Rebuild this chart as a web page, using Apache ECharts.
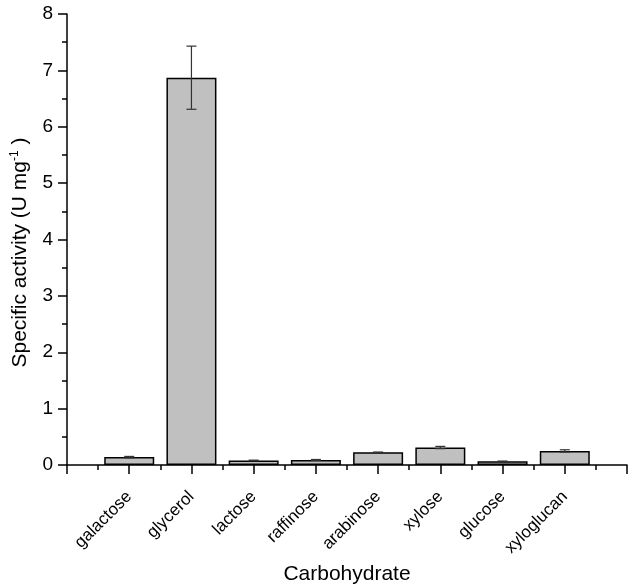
<!DOCTYPE html>
<html><head><meta charset="utf-8">
<script src="https://cdn.jsdelivr.net/npm/echarts@6/dist/echarts.min.js"></script>
<style>html,body{margin:0;padding:0;background:#fff}#c{width:628px;height:586px}</style>
</head><body><div id="c"></div>
<script>
var categories = ['galactose','glycerol','lactose','raffinose','arabinose','xylose','glucose','xyloglucan'];
var activity = [0.14, 6.87, 0.08, 0.09, 0.225, 0.31, 0.065, 0.25];
var errors = [0.012, 0.56, 0.006, 0.008, 0.005, 0.02, 0.005, 0.02];
var yTicks = [0,1,2,3,4,5,6,7,8];

var barData = categories.map(function(c,i){ return [i+1, activity[i]]; });
var errData = categories.map(function(c,i){ return [i+1, activity[i]-errors[i], activity[i]+errors[i]]; });
var font = 'Liberation Sans, Arial, sans-serif';
var chart = echarts.init(document.getElementById('c'));
chart.setOption({
  animation: false,
  grid: {left: 67, right: 1, top: 14, bottom: 121, outerBoundsMode: 'none', containLabel: false},
  xAxis: {
    type: 'value', min: 0, max: 9, interval: 1,
    name: 'Carbohydrate', nameLocation: 'middle', nameGap: 99,
    nameTextStyle: {fontFamily: font, fontSize: 21, color: '#000'},
    axisLine: {lineStyle: {color: '#000', width: 1.5}},
    axisTick: {show: true, inside: false, length: 9, lineStyle: {color: '#000', width: 1.5}},
    minorTick: {show: true, splitNumber: 2, length: 5, lineStyle: {color: '#000', width: 1.5}},
    splitLine: {show: false},
    axisLabel: {
      rotate: 45, margin: 29, fontFamily: font, fontSize: 17, color: '#000',
      formatter: function(v){ return categories[v-1] || ''; }
    }
  },
  yAxis: {
    type: 'value', min: 0, max: 8, interval: 1,
    name: 'Specific activity (U mg{sup|-1}{n| )}', nameLocation: 'middle', nameGap: 36,
    nameTextStyle: {fontFamily: font, fontSize: 21, color: '#000', padding: [0,0,0,-26],
      rich: {sup: {fontFamily: font, fontSize: 12, color: '#000', verticalAlign: 'bottom', padding: [0,0,10,0]},
             n: {fontFamily: font, fontSize: 21, color: '#000'}}},
    axisLine: {show: true, lineStyle: {color: '#000', width: 1.5}},
    axisTick: {show: true, length: 9, lineStyle: {color: '#000', width: 1.5}},
    minorTick: {show: true, splitNumber: 2, length: 5, lineStyle: {color: '#000', width: 1.5}},
    splitLine: {show: false},
    axisLabel: {margin: 14, fontFamily: font, fontSize: 19, color: '#000',
      formatter: function(v){ return yTicks.indexOf(v) >= 0 ? String(v) : ''; }}
  },
  series: [
    {type: 'bar', data: barData, barWidth: 50,
     itemStyle: {color: '#c0c0c0', borderColor: '#000', borderWidth: 1.5}},
    {type: 'custom', data: errData, z: 5,
     renderItem: function(params, api){
       var x = api.value(0);
       var lo = api.coord([x, api.value(1)]);
       var hi = api.coord([x, api.value(2)]);
       var hw = 5;
       var st = {stroke: '#333', lineWidth: 1.2};
       return {type: 'group', children: [
         {type: 'line', shape: {x1: lo[0], y1: lo[1], x2: hi[0], y2: hi[1]}, style: st},
         {type: 'line', shape: {x1: lo[0]-hw, y1: lo[1], x2: lo[0]+hw, y2: lo[1]}, style: st},
         {type: 'line', shape: {x1: hi[0]-hw, y1: hi[1], x2: hi[0]+hw, y2: hi[1]}, style: st}
       ]};
     }}
  ]
});
</script></body></html>
